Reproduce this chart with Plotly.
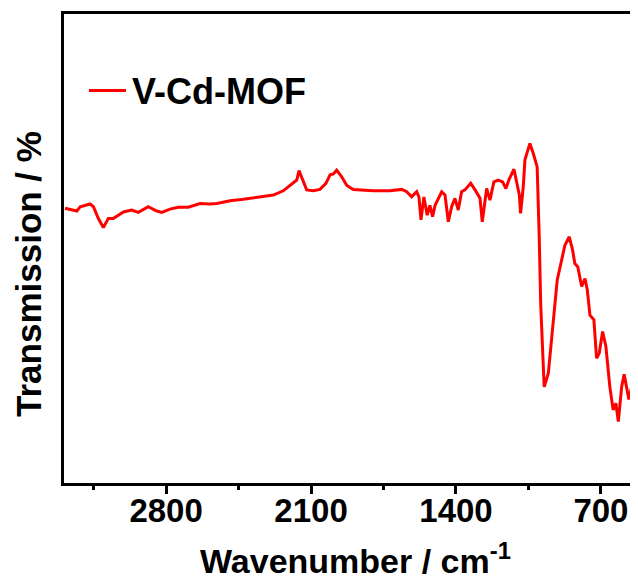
import plotly.graph_objects as go

wavenumber = [3288, 3264, 3231, 3215, 3167, 3151, 3127, 3103, 3079, 3055, 3006, 2966, 2934, 2886,
              2845, 2821, 2781, 2741, 2693, 2636, 2588, 2555, 2491, 2427, 2346, 2282, 2234, 2186,
              2169, 2158, 2145, 2121, 2089, 2057, 2028, 2008, 1992, 1976, 1952, 1928, 1912, 1896,
              1799, 1719, 1662, 1638, 1614, 1590, 1579, 1569, 1555, 1539, 1526, 1513, 1501, 1469,
              1453, 1437, 1421, 1405, 1389, 1373, 1357, 1329, 1308, 1284, 1273, 1252, 1236, 1217,
              1196, 1175, 1159, 1143, 1120, 1104, 1094, 1088, 1075, 1067, 1043, 1027, 1008, 998,
              991, 981, 974, 954, 938, 922, 911, 890, 874, 853, 837, 826, 812, 793, 777, 766, 753,
              734, 721, 708, 692, 676, 657, 641, 628, 616, 600, 588, 565, 544, 521, 500]
transmission = [58.6, 58.4, 58.0, 58.9, 59.5, 58.9, 56.4, 54.5, 56.4, 56.4, 57.8, 58.2, 57.7, 58.9,
                58.0, 57.7, 58.4, 58.8, 58.8, 59.6, 59.5, 59.6, 60.2, 60.5, 61.0, 61.4, 62.3, 63.9,
                64.6, 66.6, 65.0, 62.5, 62.3, 62.6, 63.9, 65.7, 65.9, 66.7, 65.3, 63.5, 63.0, 62.6,
                62.3, 62.3, 62.6, 62.1, 61.0, 62.1, 61.0, 56.1, 61.0, 57.1, 59.2, 56.8, 59.2, 62.1,
                61.4, 55.7, 58.9, 60.7, 58.2, 62.1, 62.5, 63.9, 62.5, 60.7, 55.7, 62.8, 60.3, 64.2,
                64.6, 64.2, 62.8, 64.8, 66.9, 63.5, 61.4, 57.5, 63.2, 68.9, 72.4, 70.3, 67.4, 52.5,
                38.3, 27.7, 20.5, 23.4, 30.5, 37.6, 43.3, 47.5, 50.7, 52.5, 49.7, 46.8, 46.1, 41.9,
                43.6, 41.2, 35.8, 34.8, 26.6, 27.7, 32.3, 29.1, 20.5, 15.6, 17.0, 13.1, 20.5, 23.2,
                17.8, 22.0, 24.8, 28.0]
series_name = "V-Cd-MOF"
x_ticks = [2800, 2100, 1400, 700]

FONT = "Liberation Sans, Arial, sans-serif"
RED = "#ff0000"

# figure is offset by the page's 8px body margin; plot area spans 574x469 px
W, H = 630, 571
L, T, B = 56, 6, 96
PW, PH = W - L, H - T - B


def px(xw):
    return (xw - L) / PW


def py(yw):
    return (H - B - yw) / PH


fig = go.Figure()
fig.add_trace(go.Scatter(x=wavenumber, y=transmission, mode="lines", name=series_name,
                         showlegend=False, line=dict(color=RED, width=3)))

fig.update_layout(
    width=W, height=H,
    margin=dict(l=L, r=0, t=T, b=B, autoexpand=False),
    paper_bgcolor="white", plot_bgcolor="white",
    font=dict(family=FONT, color="black"),
    showlegend=False,
    xaxis=dict(range=[3293, 521], tickvals=x_ticks, ticktext=[str(v) for v in x_ticks],
               ticks="outside", ticklen=8, tickwidth=2.5, tickcolor="black",
               ticklabelstandoff=-12,
               minor=dict(dtick=350, tick0=700, ticks="outside", ticklen=4, tickwidth=2.5,
                          tickcolor="black"),
               showline=True, linecolor="black", linewidth=3, mirror=True,
               showgrid=False, zeroline=False, automargin=False,
               tickfont=dict(family=FONT, size=33, weight="bold", color="black")),
    yaxis=dict(range=[0, 100], showticklabels=False, ticks="", showgrid=False, zeroline=False,
               showline=True, linecolor="black", linewidth=3, mirror=False, automargin=False),
)

# legend drawn by hand
fig.add_shape(type="line", xref="paper", yref="paper", x0=px(81), x1=px(118),
              y0=py(82.5), y1=py(82.5), line=dict(color=RED, width=3))
fig.add_annotation(text=series_name, xref="paper", yref="paper", x=px(122), y=py(83),
                   xanchor="left", yanchor="middle", showarrow=False,
                   font=dict(family=FONT, size=36, weight="bold", color="black"))

# axis titles
fig.add_annotation(text="Wavenumber / cm<sup>-1</sup>", xref="paper", yref="paper",
                   x=px(347), y=py(550), xanchor="center", yanchor="middle", showarrow=False,
                   font=dict(family=FONT, size=34, weight="bold", color="black"))
fig.add_annotation(text="Transmission / %", xref="paper", yref="paper",
                   x=px(20), y=py(266), textangle=-90,
                   showarrow=False, xanchor="center", yanchor="middle",
                   font=dict(family=FONT, size=35, weight="bold", color="black"))

fig.write_html("out.html")
